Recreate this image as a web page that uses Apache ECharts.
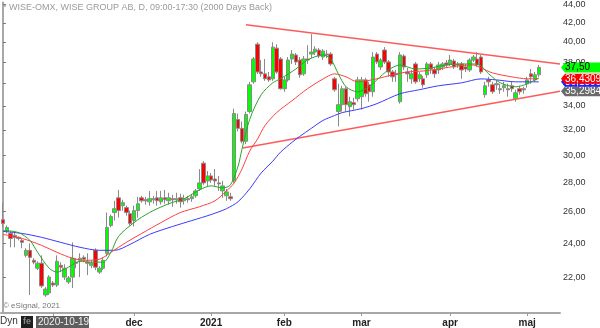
<!DOCTYPE html>
<html><head><meta charset="utf-8">
<script src="https://cdn.jsdelivr.net/npm/echarts@6/dist/echarts.min.js"></script>
<style>html,body{margin:0;padding:0;background:#fff}#c{width:600px;height:328px}</style>
</head><body><div id="c"></div>
<script>
// ---- trading days (categories) ----
const octDays=[14,15,16,19,20,21,22,23,26,27,28,29,30];
const novDays=[2,3,4,5,6,9,10,11,12,13,16,17,18,19,20,23,24,25,26,27,30];
const decDays=[1,2,3,4,7,8,9,10,11,14,15,16,17,18,21,22,23,28,29,30];
const janDays=[4,5,7,8,11,12,13,14,15,18,19,20,21,22,25,26,27,28,29];
const febDays=[1,2,3,4,5,8,9,10,11,12,15,16,17,18,19,22,23,24,25,26];
const marDays=[1,2,3,4,5,8,9,10,11,12,15,16,17,18,19,22,23,24,25,26,29,30,31];
const aprDays=[1,6,7,8,9,12,13,14,15,16,19,20,21,22,23,26,27,28,29,30];
const mayDays=[3,4,5,6];
const monthLabels=['','','dec','2021','feb','mar','apr','maj'];
const yTicks=[22,24,26,28,30,32,34,36,38,40,42,44];

// ---- OHLC ----
const opens=[25.47,24.72,24.59,24.47,24.35,24.16,23.26,23.56,22.97,22.51,22.80,21.03,21.14,
21.68,21.57,22.68,22.01,21.74,22.01,22.86,22.97,23.14,22.86,22.68,23.56,22.29,22.51,23.38,25.09,25.93,26.92,26.39,26.26,25.86,
25.41,26.06,26.92,26.79,26.65,26.79,26.92,26.65,26.92,26.72,26.86,26.79,26.92,26.72,26.86,26.86,27.06,27.54,29.40,28.10,
28.46,28.24,27.96,27.40,27.06,26.99,28.10,32.85,32.12,31.08,33.52,36.15,39.78,37.07,36.89,36.61,36.43,39.38,38.31,
35.52,36.33,38.31,38.70,38.21,36.89,38.31,38.79,38.99,39.19,38.50,38.79,38.79,36.43,33.52,34.11,35.52,33.94,34.28,34.63,
34.81,36.33,35.88,35.25,38.79,37.54,39.19,38.02,37.07,36.89,34.37,38.60,37.07,36.43,37.83,36.43,36.43,36.80,37.83,37.26,37.26,37.54,37.92,
37.83,38.12,37.83,37.83,37.54,37.26,38.21,38.31,38.50,34.99,36.33,35.88,35.97,35.52,35.61,35.52,35.79,34.63,35.52,35.52,
35.97,36.89,36.33,36.80];
const closes=[25.22,24.97,24.28,24.35,24.28,24.04,23.56,23.14,22.86,22.80,21.52,21.35,22.01,
21.57,22.91,22.57,22.51,21.96,23.09,22.80,23.09,23.03,22.80,22.80,22.57,22.51,22.97,24.97,25.67,26.19,26.06,26.59,25.93,25.22,
26.06,26.52,26.72,26.72,26.86,26.86,26.72,26.92,26.79,26.92,26.79,26.86,26.65,26.86,26.79,26.99,27.40,27.96,27.96,28.46,
28.17,28.10,27.89,27.75,27.33,26.86,33.35,32.12,31.08,33.27,35.88,38.31,37.07,36.89,36.43,36.33,39.48,37.07,35.52,
36.33,38.21,38.79,38.02,36.80,38.31,38.21,38.99,39.28,38.60,39.09,38.70,37.83,35.43,34.11,35.52,34.11,34.37,34.11,36.33,
36.33,35.07,35.25,38.50,38.02,38.21,38.02,37.07,36.61,36.80,38.70,37.54,36.89,36.89,36.15,36.80,35.88,37.83,37.35,36.89,37.73,37.83,37.73,
38.21,37.54,37.73,37.26,37.35,38.21,38.50,37.73,37.07,35.79,36.15,35.25,35.88,35.43,35.79,35.43,35.52,35.16,35.25,35.43,
36.33,36.61,36.80,37.50];
const lows=[24.97,24.59,23.74,23.74,24.16,23.68,23.14,21.03,22.74,22.40,21.41,20.93,21.03,
21.46,21.46,22.29,21.85,21.63,21.41,22.51,22.01,22.86,22.12,22.51,22.40,22.18,22.40,23.20,24.97,25.41,25.60,26.06,25.73,25.09,
25.03,25.60,26.59,26.46,26.39,26.52,26.39,26.46,26.52,26.46,26.32,26.52,26.26,26.46,26.59,26.65,26.92,27.40,27.82,27.75,
27.96,27.75,27.40,26.92,26.72,26.72,27.96,31.87,30.92,30.85,33.35,35.97,36.89,36.61,36.24,36.15,36.24,36.89,35.43,
35.25,36.15,37.83,37.73,36.52,36.70,37.83,38.40,38.70,38.40,38.21,38.40,37.64,35.25,32.28,33.52,33.52,33.10,33.69,34.37,
33.69,34.81,34.37,34.81,37.83,37.26,37.83,36.61,36.15,36.15,34.20,37.26,36.15,35.97,35.97,36.15,35.61,36.52,36.89,36.52,36.89,37.26,37.45,
37.64,37.35,37.45,36.43,37.07,37.07,38.02,37.54,36.89,34.72,35.70,35.07,35.43,35.07,35.25,34.81,35.25,34.37,34.99,35.07,
35.61,35.97,36.15,36.61];
const highs=[26.59,25.09,24.72,24.65,24.41,24.28,23.68,23.98,23.09,22.91,23.26,21.46,22.12,
21.79,23.26,22.86,22.74,22.07,24.04,23.09,23.38,23.26,23.38,22.97,23.68,22.63,23.14,25.93,25.80,26.72,27.47,26.79,26.39,26.06,
26.39,26.99,27.06,26.99,27.40,27.06,27.40,27.40,27.47,27.27,27.13,27.27,27.20,27.13,27.06,27.20,27.54,28.96,29.55,28.82,
28.68,28.96,28.46,28.10,27.54,27.27,33.77,33.35,32.69,33.52,36.15,38.50,39.98,38.21,38.31,37.07,39.98,39.78,38.50,
36.61,38.50,39.19,38.89,38.50,38.60,39.68,40.80,39.58,39.38,39.28,39.19,38.99,36.61,35.97,35.79,35.70,34.81,34.72,36.61,
36.61,36.52,36.15,38.99,38.99,38.40,39.48,38.21,37.26,37.26,38.99,38.79,37.45,37.26,38.02,37.07,36.70,38.02,38.02,37.54,38.02,38.02,38.21,
38.70,38.31,38.02,38.02,37.83,38.40,38.70,38.99,38.70,36.15,36.61,36.15,36.33,35.97,36.15,35.97,36.15,35.43,35.79,35.70,
36.61,37.35,37.07,37.73];

// ---- moving averages (read at sample days) ----
const greenIdx=[0,4,7,9,12,14,17,20,23,26,28,30,34,38,43,47,51,54,57,59,61,62,64,67,70,72,76,79,83,85,87,89,92,95,97,100,103,107,111,115,120,123,126,129,133,136,139];
const greenVal=[24.78,24.65,24.16,23.44,22.51,22.29,22.57,22.91,22.86,22.86,23.44,24.41,25.28,25.93,26.52,26.86,27.47,27.75,27.61,27.82,29.18,30.46,32.85,34.99,36.06,36.43,37.35,38.21,38.70,38.31,36.89,35.70,35.25,35.70,36.33,37.26,37.73,37.35,37.45,37.73,37.83,37.83,36.89,36.06,35.70,35.97,36.52];
const redIdx=[0,5,10,14,18,21,25,28,32,36,41,46,51,55,58,60,62,64,66,68,71,75,79,84,86,89,92,97,101,105,109,113,118,122,124,127,132,136,139];
const redVal=[24.53,24.28,23.86,23.44,23.09,22.97,23.03,23.44,24.04,24.59,25.28,25.93,26.32,26.72,27.40,27.96,28.96,30.31,31.24,32.36,33.43,34.46,35.52,36.61,36.89,36.61,36.15,36.43,36.80,37.07,37.16,37.35,37.64,37.73,37.45,36.98,36.61,36.43,36.4309];
const blueIdx=[0,5,10,15,20,25,29,33,38,44,49,54,58,61,64,67,70,72,75,77,80,83,86,88,93,97,103,108,113,119,124,128,133,139];
const blueVal=[24.72,24.59,24.35,24.04,23.74,23.56,23.56,23.92,24.53,25.03,25.41,25.80,26.19,26.66,27.54,28.68,29.55,30.23,31.00,31.47,32.12,32.77,33.18,33.43,33.77,34.20,35.07,35.43,35.79,36.06,36.42,36.33,36.15,36.15];

// ---- trend lines ----
const upperIdx=[63.05,144.5], upperVal=[41.79,37.83];
const lowerIdx=[62.2,144.5], lowerVal=[30.56,35.2984];

const lastClose=37.50;
const yRange=[20.09,44.22];

// ---- build ----
const L=Math.log;
const months=[[2020,10,octDays],[2020,11,novDays],[2020,12,decDays],[2021,1,janDays],[2021,2,febDays],[2021,3,marDays],[2021,4,aprDays],[2021,5,mayDays]];
const dates=[], labelAt={}, tickAt=new Set();
months.forEach(([y,m,days],k)=>{
  days.forEach((d,j)=>{
    if(j===0 && k>0){ tickAt.add(dates.length); labelAt[dates.length]=monthLabels[k]; }
    dates.push(y+'-'+String(m).padStart(2,'0')+'-'+String(d).padStart(2,'0'));
  });
});
const categories=dates.concat(['','','','','']);
const candleData=opens.map((o,i)=>[L(o),L(closes[i]),L(lows[i]),L(highs[i])]);
const pts=(ix,v)=>ix.map((x,k)=>[x,L(v[k])]);
const fmt=(v,d)=>v.toFixed(d).replace('.',',');
const FF='Liberation Sans, Arial, sans-serif';

const chart=echarts.init(document.getElementById('c'),null,{renderer:'canvas'});
const staticGraphics=[
  {type:'text',left:3,top:3,style:{text:'* WISE-OMX, WISE GROUP AB, D, 09:00-17:30 (2000 Days Back)',fontSize:9,fill:'#9a9a9a',fontFamily:FF}},
  {type:'text',left:3,top:302,style:{text:'© eSignal, 2021',fontSize:8,fill:'#777',fontFamily:FF}},
  {type:'text',left:0,top:316,style:{text:'Dyn',fontSize:10,fill:'#333',fontFamily:FF}},
  {type:'rect',shape:{x:21,y:316,width:12,height:12},style:{fill:'#1e1e1e'}},
  {type:'text',left:23,top:317,style:{text:'fe',fontSize:9,fontWeight:'bold',fill:'#888',fontFamily:FF}},
  {type:'rect',shape:{x:36,y:316,width:53,height:12},style:{fill:'#5e5e5e'}},
  {type:'text',left:38,top:317,style:{text:'2020-10-19',fontSize:10,fill:'#eee',fontFamily:FF}}
];
chart.setOption({
  animation:false,
  backgroundColor:'#fff',
  grid:{left:1,right:40,top:0,bottom:15,containLabel:false},
  xAxis:[
    {type:'category',data:categories,boundaryGap:true,
     axisLine:{show:true,lineStyle:{color:'#a8a8a8',width:2}},
     axisTick:{show:true,alignWithLabel:true,interval:(i)=>tickAt.has(i),length:3,lineStyle:{color:'#999'}},
     axisLabel:{interval:(i)=>!!labelAt[i],formatter:(v,i)=>labelAt[i]||'',fontSize:10,fontWeight:'bold',color:'#222',margin:5,fontFamily:FF},
     splitLine:{show:false}},
    {type:'value',min:-0.5,max:categories.length-0.5,show:false}
  ],
  yAxis:{type:'value',position:'right',min:L(yRange[0]),max:L(yRange[1]),
    axisLine:{show:true,lineStyle:{color:'#a8a8a8',width:2}},
    axisTick:{show:true,customValues:yTicks.map(L),length:3,lineStyle:{color:'#777'}},
    axisLabel:{customValues:yTicks.map(L),formatter:(v)=>fmt(Math.exp(v),2),fontSize:9,color:'#333',margin:3,fontFamily:FF},
    splitLine:{show:false}},
  series:[
    {type:'candlestick',xAxisIndex:0,data:candleData,barWidth:4,z:2,
     itemStyle:{color:'#00ff00',color0:'#ff0000',borderColor:'#8a8a8a',borderColor0:'#8a8a8a',borderWidth:1}},
    {type:'line',xAxisIndex:1,data:pts(upperIdx,upperVal),symbol:'none',lineStyle:{color:'#ff5a5a',width:1.5},z:3},
    {type:'line',xAxisIndex:1,data:pts(lowerIdx,lowerVal),symbol:'none',lineStyle:{color:'#ff5a5a',width:1.5},z:3},
    {type:'line',xAxisIndex:1,data:pts(blueIdx,blueVal),symbol:'none',smooth:0.3,lineStyle:{color:'#3a3aff',width:1},z:4},
    {type:'line',xAxisIndex:1,data:pts(redIdx,redVal),symbol:'none',smooth:0.3,lineStyle:{color:'#ff4040',width:1},z:5},
    {type:'line',xAxisIndex:1,data:pts(greenIdx,greenVal),symbol:'none',smooth:0.3,lineStyle:{color:'#2aa52a',width:1},z:6}
  ],
  graphic:staticGraphics
});

// price tags on the right axis, placed through the chart's own scales
const tags=[
  [lowerVal[1],fmt(lowerVal[1],4),'#6a6a6a','#fff'],
  [blueVal[blueVal.length-1],fmt(blueVal[blueVal.length-1],4),'#2020ff','#fff'],
  [redVal[redVal.length-1],fmt(redVal[redVal.length-1],4),'#ff0000','#fff'],
  [lastClose,fmt(lastClose,2),'#00ff00','#000']
];
const x0=chart.convertToPixel({xAxisIndex:1},categories.length-0.5);
const tagGraphics=[];
tags.forEach(([v,text,bg,fg],k)=>{
  const y=chart.convertToPixel({yAxisIndex:0},L(v));
  tagGraphics.push({type:'polygon',z:100+2*k,zlevel:1,shape:{points:[[x0+1,y],[x0+5,y-5],[600,y-5],[600,y+5],[x0+5,y+5]]},style:{fill:bg}});
  tagGraphics.push({type:'text',z:101+2*k,zlevel:1,x:x0+5,y:y,style:{text:text,fontSize:10,fill:fg,fontFamily:FF,verticalAlign:'middle',align:'left'}});
});
chart.setOption({graphic:staticGraphics.concat(tagGraphics)});
</script></body></html>
